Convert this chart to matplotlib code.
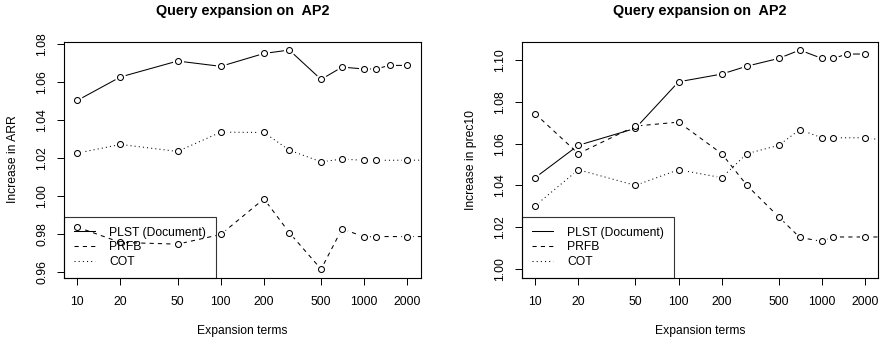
import matplotlib
matplotlib.use("Agg")
import matplotlib.pyplot as plt
from matplotlib.lines import Line2D

plt.rcParams['font.family'] = ['Liberation Sans', 'DejaVu Sans']

# Data
terms = [10, 20, 50, 100, 200, 300, 500, 700, 1000, 1200, 2000, 3000]
terms_plst = [10, 20, 50, 100, 200, 300, 500, 700, 1000, 1200, 1500, 2000]
tick_vals = [10, 20, 50, 100, 200, 500, 1000, 2000]

arr_plst = [1.0504, 1.0628, 1.0712, 1.0684, 1.0752, 1.0770, 1.0615, 1.0680,
            1.0670, 1.0670, 1.0689, 1.0689]
arr_prfb = [0.9836, 0.9755, 0.9746, 0.9797, 0.9985, 0.9807, 0.9614, 0.9827,
            0.9784, 0.9786, 0.9786, 0.9786]
arr_cot = [1.0226, 1.0272, 1.0235, 1.0337, 1.0335, 1.0242, 1.0180, 1.0195,
           1.0188, 1.0188, 1.0189, 1.0189]

p10_plst = [1.0437, 1.0592, 1.0673, 1.0896, 1.0933, 1.0971, 1.1008, 1.1048,
            1.1008, 1.1008, 1.1029, 1.1029]
p10_prfb = [1.0743, 1.0552, 1.0684, 1.0703, 1.0552, 1.0400, 1.0249, 1.0151,
            1.0132, 1.0153, 1.0153, 1.0153]
p10_cot = [1.0303, 1.0475, 1.0400, 1.0475, 1.0437, 1.0552, 1.0592, 1.0667,
           1.0628, 1.0628, 1.0628, 1.0613]

labels = ["PLST (Document)", "PRFB", "COT"]
styles = ["-", (0, (4, 4)), (0, (1, 3))]

FS = 8.7


def draw(ax, series, ylim, yticks, ylabel):
    for (x, y), ls in zip(series, styles):
        ax.plot(x, y, color='black', lw=0.75, linestyle=ls, zorder=2)
        # white halo so the line stops short of each point (R type="b")
        ax.plot(x, y, linestyle='none', marker='o', ms=8, mfc='white',
                mec='none', zorder=3)
        ax.plot(x, y, linestyle='none', marker='o', ms=4.3, mfc='white',
                mec='black', mew=0.75, zorder=4)
    ax.set_xscale('log')
    ax.set_xlim(10 / 10 ** 0.0921, 2000 * 10 ** 0.0921)
    ax.set_ylim(*ylim)
    ax.set_xticks(tick_vals)
    ax.set_xticklabels([str(v) for v in tick_vals])
    ax.xaxis.set_minor_locator(matplotlib.ticker.NullLocator())
    ax.set_yticks(yticks)
    ax.set_yticklabels(["%.2f" % v for v in yticks], rotation=90, va='center')
    ax.tick_params(axis='both', direction='out', length=4.8, width=0.7,
                   labelsize=FS)
    ax.tick_params(axis='x', pad=8.5)
    ax.tick_params(axis='y', pad=6.5)
    for s in ax.spines.values():
        s.set_linewidth(0.8)
    ax.set_title("Query expansion on  AP2", fontsize=10.4, fontweight='bold',
                 pad=19)
    ax.set_xlabel("Expansion terms", fontsize=FS, va='center')
    ax.xaxis.set_label_coords(0.5, -0.227)
    ax.set_ylabel(ylabel, fontsize=FS, va='center')
    ax.yaxis.set_label_coords(-0.143, 0.5)
    handles = [Line2D([], [], color='black', lw=0.75, linestyle=ls)
               for ls in styles]
    leg = ax.legend(handles, labels, loc='lower left', borderaxespad=0,
                    fontsize=FS, fancybox=False, edgecolor='black',
                    handlelength=1.8, handletextpad=1.15,
                    labelspacing=0.22, borderpad=0.8)
    leg.get_frame().set_facecolor('none')
    leg.get_frame().set_linewidth(0.8)
    leg.set_zorder(5)


fig = plt.figure(figsize=(8.82, 3.41), dpi=100)
ax1 = fig.add_axes([0.0726, 0.1862, 0.4044, 0.6915])
ax2 = fig.add_axes([0.5918, 0.1862, 0.4040, 0.6915])

draw(ax1, [(terms_plst, arr_plst), (terms, arr_prfb), (terms, arr_cot)],
     (0.957, 1.0814), [0.96, 0.98, 1.00, 1.02, 1.04, 1.06, 1.08],
     "Increase in ARR")
draw(ax2, [(terms_plst, p10_plst), (terms, p10_prfb), (terms, p10_cot)],
     (0.9959, 1.1088), [1.00, 1.02, 1.04, 1.06, 1.08, 1.10],
     "Increase in prec10")

fig.savefig("out.png", dpi=100)
